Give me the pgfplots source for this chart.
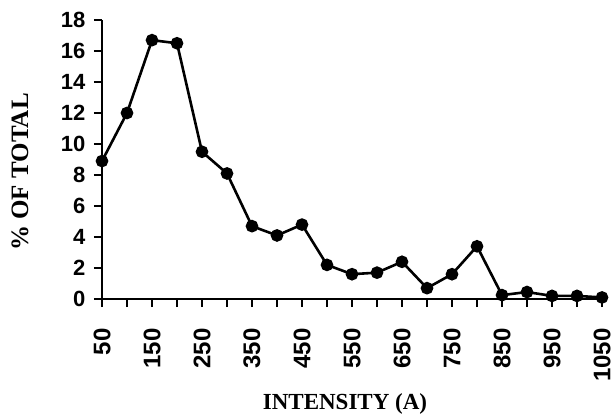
\documentclass[border=0pt]{standalone}
\usepackage{fontspec}
\setmainfont{Liberation Serif}
\newfontfamily\arialf{Liberation Sans}
\usepackage{pgfplots}
\pgfplotsset{compat=1.18}
\begin{document}
\begin{tikzpicture}
\begin{axis}[
  scale only axis,
  width=500pt, height=279pt,
  xmin=50, xmax=1050, ymin=0, ymax=18,
  axis x line=bottom, axis y line=left,
  x axis line style={-, line width=1.8pt, shorten <=-6pt},
  y axis line style={-, line width=1.8pt},
  tick align=outside,
  major tick length=8pt, minor tick length=8pt,
  every tick/.style={black, line width=1.6pt},
  xtick={50,150,...,1050},
  minor xtick={100,200,...,1000},
  ytick={0,2,...,18},
  /pgf/number format/assume math mode=true,
  /pgf/number format/1000 sep={},
  xticklabel style={font=\arialf\bfseries\fontsize{24}{26}\selectfont, yshift=-18pt, rotate=90, anchor=east},
  yticklabel style={font=\arialf\bfseries\fontsize{22}{24}\selectfont, xshift=-5pt},
  clip=false,
]
\addplot[black, line width=2.6pt, mark=*, mark size=5pt, mark options={fill=black}] coordinates {
(50,8.9) (100,12.0) (150,16.7) (200,16.5) (250,9.5) (300,8.1) (350,4.7) (400,4.1)
(450,4.8) (500,2.2) (550,1.6) (600,1.7) (650,2.4) (700,0.7) (750,1.6) (800,3.4)
(850,0.25) (900,0.45) (950,0.2) (1000,0.2) (1050,0.1)
};
\node[anchor=base, font=\bfseries\fontsize{23}{27}\selectfont] at ([yshift=-110pt]axis description cs:0.486,0) {INTENSITY (A)};
\node[anchor=center, rotate=90, font=\bfseries\fontsize{25}{29}\selectfont] at (axis description cs:-0.164,0.455) {\% OF TOTAL};
\end{axis}
\pgfresetboundingbox
\path[use as bounding box] (-102pt,-118pt) rectangle (510pt,299pt);
\end{tikzpicture}
\end{document}
